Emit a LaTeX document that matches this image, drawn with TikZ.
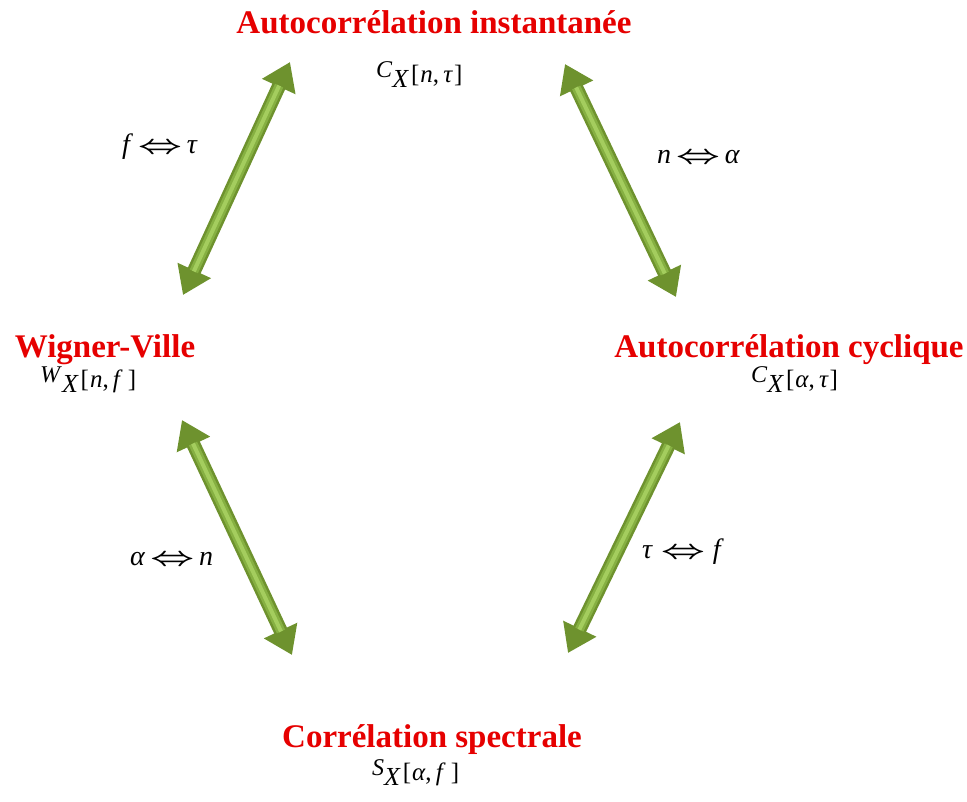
\documentclass[tikz,border=0pt]{standalone}
\usepackage{fontspec}
\setmainfont{Liberation Serif}
\usetikzlibrary{arrows.meta}
\definecolor{titlered}{RGB}{230,0,0}
\definecolor{arrowdark}{RGB}{110,146,46}
\definecolor{arrowmid}{RGB}{134,176,66}
\definecolor{arrowlight}{RGB}{164,205,94}
\newcommand{\labfont}{\fontsize{28}{32}\selectfont}
\newcommand{\eqv}{\scalebox{1.55}[1.05]{\boldmath$\Leftrightarrow$}}
\newcommand{\fn}[3]{{\fontsize{24}{28}\selectfont\textit{#1}}\raisebox{-10pt}{\fontsize{26}{30}\selectfont\textit{#2}}\kern2pt\raisebox{-5pt}{\fontsize{25}{28}\selectfont[\kern1pt#3\kern1pt]}}
\begin{document}
\begin{tikzpicture}[x=1pt,y=-1pt,
  titletext/.style={text=titlered, font=\fontsize{33}{38}\selectfont\bfseries, inner sep=0pt, anchor=base},
  formula/.style={inner sep=0pt, anchor=base west},
  duallabel/.style={font=\labfont, inner sep=0pt, anchor=base west},
  arrowbody/.style={line width=14pt, draw=arrowdark,
    {Triangle[width=35pt,length=27pt]}-{Triangle[width=35pt,length=27pt]}},
  arrowmidband/.style={line width=9pt, draw=arrowmid, shorten <=26pt, shorten >=26pt},
  arrowshine/.style={line width=4pt, draw=arrowlight, shorten <=26pt, shorten >=26pt}
  ]
\useasboundingbox[fill=white] (0,0) rectangle (967,801);

% titles
\node[titletext] (t1) at (434,33) {Autocorrélation instantanée};
\node[titletext] (t2) at (105,357) {Wigner-Ville};
\node[titletext] (t3) at (789,357) {Autocorrélation cyclique};
\node[titletext] (t4) at (432,747) {Corrélation spectrale};

% formulas
\node[formula] (f1) at (376,77) {\fn{C}{X}{\textit{n},\,\textit{τ}}};
\node[formula] (f2) at (40,382) {\fn{W}{X}{\textit{n},\,\textit{f}\,}};
\node[formula] (f3) at (751,382) {\fn{C}{X}{\textit{α},\,\textit{τ}}};
\node[formula] (f4) at (372,775) {\fn{S}{X}{\textit{α},\,\textit{f}\,}};

% arrow endpoints
\coordinate (a1s) at (183,295);
\coordinate (a1e) at (290,62);
\coordinate (a2s) at (565,64);
\coordinate (a2e) at (676,297);
\coordinate (a3s) at (182,420);
\coordinate (a3e) at (292,655);
\coordinate (a4s) at (680,422);
\coordinate (a4e) at (568,653);

\foreach \s/\e in {a1s/a1e, a2s/a2e, a3s/a3e, a4s/a4e}{
  \draw[arrowbody] (\s) -- (\e);
  \draw[arrowmidband] (\s) -- (\e);
  \draw[arrowshine] (\s) -- (\e);
}

% labels
\node[duallabel] (l1) at (122,153) {\textit{f}\,\eqv\,\textit{τ}};
\node[duallabel] (l2) at (657,163) {\textit{n}\,\eqv\,\textit{α}};
\node[duallabel] (l3) at (130,565) {\textit{α}\,\eqv\,\textit{n}};
\node[duallabel] (l4) at (642,558) {\textit{τ}\;\eqv\;\textit{f}};
\end{tikzpicture}
\end{document}
